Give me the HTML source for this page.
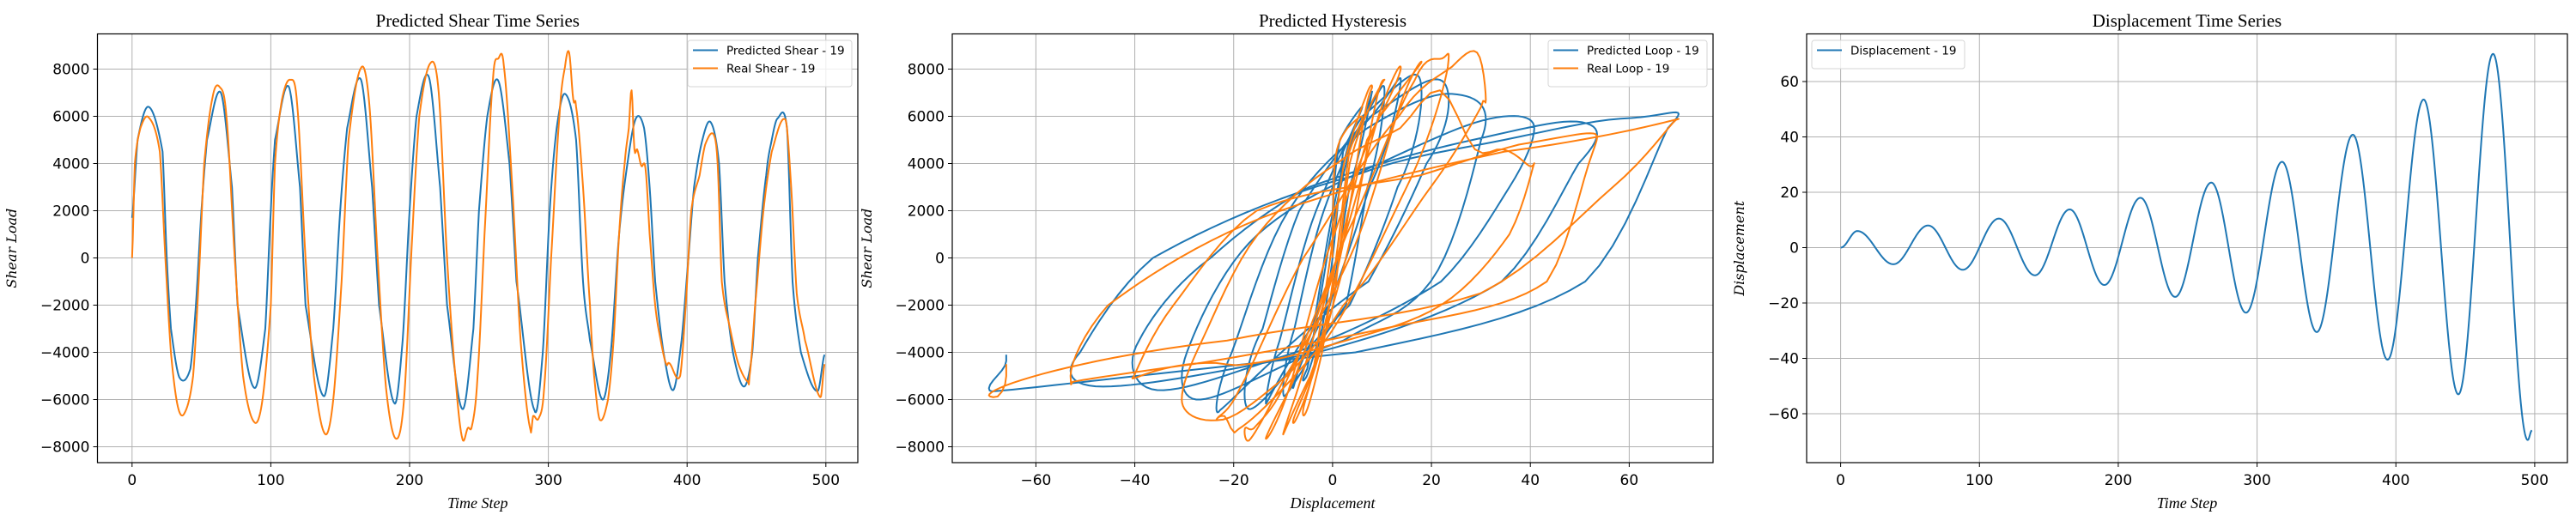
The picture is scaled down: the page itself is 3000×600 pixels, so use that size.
<!DOCTYPE html>
<html><head><meta charset="utf-8">
<style>
html,body{margin:0;padding:0;background:#fff;}
svg{display:block;}
.tick{font-family:"DejaVu Sans",sans-serif;font-size:17px;fill:#000;}
.title{font-family:"Liberation Serif",serif;font-size:21px;fill:#000;}
.xl{font-family:"Liberation Serif",serif;font-style:italic;font-size:18px;fill:#000;}
.yl{font-family:"DejaVu Serif",serif;font-style:italic;font-size:16px;fill:#000;}
.leg{font-family:"DejaVu Sans",sans-serif;font-size:13.5px;fill:#000;}
</style></head>
<body>
<svg id="root" width="3000" height="600" viewBox="0 0 3000 600" xmlns="http://www.w3.org/2000/svg"></svg>
<script>
// ---- Displacement extremes (time step, value) ----
const dispT = [0,12,38,63,88,114,140,165,190,216,241,267,292,318,343,369,394,420,445,470,495,498];
const dispV = [0,6,-6,8,-8,10.5,-10,13.8,-13.5,18,-17.8,23.5,-23.5,31,-30.5,40.8,-40.5,53.5,-53,70,-69.5,-66];
// ---- Predicted shear key points ----
const predT = [0,4,12,22,25,28,34,42,46,50,54,64,72,76,88,96,100,103,113,121,125,138,145,150,155,165,173,178,189,195,200,205,214,222,227,238,246,250,256,264,272,277,290,296,301,306,312,320,325,330,339,345,351,357,363,369,373,377,383,390,396,401,405,411,417,423,427,433,441,447,451,457,461,465,472,476,482,494,499];
const predV = [1700,5000,6400,4500,0,-3000,-5050,-4700,-2000,2000,5000,7000,3000,-2000,-5500,-3000,2000,5000,7250,3000,-2000,-5850,-3000,2000,5500,7550,3000,-2000,-6150,-3500,2000,6000,7650,3000,-2000,-6400,-3000,2000,6000,7500,4000,-1000,-6450,-4000,2000,5500,6950,5000,-1000,-3500,-6000,-4000,1000,4000,5900,5500,3000,-1000,-4000,-5600,-3500,0,3000,5000,5750,4000,-1000,-4000,-5450,-4000,0,3500,5000,5900,5500,-1000,-4000,-5650,-4100];
// ---- Real shear key points ----
const realT = [0,2,6,12,20,24,28,33,38,44,48,52,58,63,68,74,80,88,94,100,103,108,114,119,125,131,139,145,151,156,165,171,177,183,190,196,202,207,215,221,227,233,238,242,245,249,254,260,264,268,274,280,287,289,293,297,302,308,312,315,318,320,325,330,333,337,343,347,351,355,358,360,362,364,367,370,373,377,381,385,387,395,399,403,409,413,419,422,425,431,437,444,445,449,455,461,471,475,479,485,496,499];
const realV = [0,4000,5500,5950,4500,0,-4000,-6300,-6550,-5000,-1000,4000,6800,7250,6000,0,-5000,-6950,-6000,-2000,4000,6700,7550,6500,0,-5000,-7450,-6000,-1000,5000,8050,6500,0,-5500,-7650,-6000,1000,6000,8250,7000,0,-5000,-7650,-7200,-7100,-5000,1000,7500,8450,8100,3000,-3500,-7250,-6700,-6800,-5500,0,6000,8100,8700,6700,6400,3000,-2000,-5000,-6850,-6000,-3500,1000,4000,5500,7100,4600,4600,3900,3800,1000,-2000,-3500,-4500,-4450,-5000,-2000,2000,3500,4800,5250,4000,-1000,-3000,-4500,-5250,-5000,-2000,2000,4500,5850,3000,-1500,-3500,-5900,-4500];
const shearTicks = [-8000,-6000,-4000,-2000,0,2000,4000,6000,8000];
const timeTicks = [0,100,200,300,400,500];
const dispAxisTicks = [-60,-40,-20,0,20,40,60];
const dispValTicks = [-60,-40,-20,0,20,40,60];

const NS="http://www.w3.org/2000/svg";
const root=document.getElementById('root');
function mk(tag,attrs,parent){const e=document.createElementNS(NS,tag);for(const k in attrs)e.setAttribute(k,attrs[k]);(parent||root).appendChild(e);return e;}
function fmt(v){return v<0?'\u2212'+Math.abs(v):String(v);}

function cosInterp(T,V,t){
  for(let i=0;i<T.length-1;i++){if(t<=T[i+1]){const u=(t-T[i])/(T[i+1]-T[i]);return V[i]+(V[i+1]-V[i])*(1-Math.cos(Math.PI*u))/2;}}
  return V[V.length-1];
}
function crInterp(T,V,t){
  let i=0;while(i<T.length-2&&t>T[i+1])i++;
  const p0=V[Math.max(i-1,0)],p1=V[i],p2=V[i+1],p3=V[Math.min(i+2,V.length-1)];
  const u=(t-T[i])/(T[i+1]-T[i]);
  const u2=u*u,u3=u2*u;
  return 0.5*((2*p1)+(-p0+p2)*u+(2*p0-5*p1+4*p2-p3)*u2+(-p0+3*p1-3*p2+p3)*u3);
}
function samples(fn,T,V,t0,t1,step){const out=[];for(let t=t0;t<=t1+1e-9;t+=step)out.push([t,fn(T,V,t)]);return out;}

function axes(cfg){
  const g=mk('g',{});
  
  
  const {L,R,T,B}=cfg;
  const sx=v=>cfg.x0+(v-cfg.xa)*cfg.kx;
  const sy=v=>cfg.y0-(v-cfg.ya)*cfg.ky;
  const clip='clip-'+cfg.name;
  const cp=mk('clipPath',{id:clip},g);mk('rect',{x:L,y:T,width:R-L,height:B-T},cp);
  cfg.xticks.forEach(v=>{const x=sx(v);
    const gl=mk('line',{x1:x,x2:x,y1:T,y2:B,stroke:'#b0b0b0','stroke-width':1},g);
    
    mk('line',{x1:x,x2:x,y1:B,y2:B+5,stroke:'#000','stroke-width':1},g);
    const t=mk('text',{x:x,y:B+26,'text-anchor':'middle',class:'tick'},g);t.textContent=fmt(v);
    
  });
  cfg.yticks.forEach(v=>{const y=sy(v);
    const gl=mk('line',{x1:L,x2:R,y1:y,y2:y,stroke:'#b0b0b0','stroke-width':1},g);
    
    mk('line',{x1:L-5,x2:L,y1:y,y2:y,stroke:'#000','stroke-width':1},g);
    const t=mk('text',{x:L-9,y:y+6,'text-anchor':'end',class:'tick'},g);t.textContent=fmt(v);
    
  });
  cfg.series.forEach(s=>{
    const d=s.pts.map((p,i)=>(i?'L':'M')+sx(p[0]).toFixed(2)+' '+sy(p[1]).toFixed(2)).join(' ');
    const p=mk('path',{d:d,fill:'none',stroke:s.color,'stroke-width':2,'stroke-linejoin':'round','clip-path':'url(#'+clip+')'},g);
    
  });
  const fr=mk('rect',{x:L,y:T,width:R-L,height:B-T,fill:'none',stroke:'#000','stroke-width':1.2},g);
  
  const ti=mk('text',{x:(L+R)/2,y:31,'text-anchor':'middle',class:'title'},g);ti.textContent=cfg.title;
  
  const xl=mk('text',{x:(L+R)/2,y:592,'text-anchor':'middle',class:'xl'},g);xl.textContent=cfg.xlabel;
  
  const yl=mk('text',{x:0,y:0,'text-anchor':'middle',class:'yl',transform:'translate('+cfg.ylx+','+((T+B)/2)+') rotate(-90)'},g);yl.textContent=cfg.ylabel;
  
  const lg=mk('g',{},g);
  
  const lw=cfg.leg.w,lh=cfg.series.length*21+12;
  mk('rect',{x:cfg.leg.x,y:47,width:lw,height:lh,rx:3,fill:'#fff','fill-opacity':0.8,stroke:'#d6d6d6','stroke-width':1},lg);
  cfg.series.forEach((s,i)=>{const y=58.5+i*21;
    mk('line',{x1:cfg.leg.x+6,x2:cfg.leg.x+35,y1:y,y2:y,stroke:s.color,'stroke-width':2},lg);
    const t=mk('text',{x:cfg.leg.x+45,y:y+5,class:'leg'},lg);t.textContent=s.label;
    
  });
}

const pred=samples(crInterp,predT,predV,0,499,0.5);
const real=samples(crInterp,realT,realV,0,499,0.5);
const disp=samples(cosInterp,dispT,dispV,0,498,0.5);
const predLoop=pred.map(p=>[cosInterp(dispT,dispV,Math.min(p[0],498)),p[1]]);
const realLoop=real.map(p=>[cosInterp(dispT,dispV,Math.min(p[0],498)),p[1]]);

axes({name:'shear-time-series-chart',L:113.5,R:999,T:39.5,B:539,x0:153.8,xa:0,kx:1.616,y0:300.5,ya:0,ky:0.0275,
  xticks:timeTicks,yticks:shearTicks,title:'Predicted Shear Time Series',xlabel:'Time Step',ylabel:'Shear Load',ylx:19,
  leg:{x:801,w:191},
  series:[{name:'predicted-shear-line',label:'Predicted Shear - 19',color:'#1f77b4',pts:pred},
          {name:'real-shear-line',label:'Real Shear - 19',color:'#ff7f0e',pts:real}]});
axes({name:'hysteresis-chart',L:1109,R:1995,T:39.5,B:539,x0:1551.9,xa:0,kx:5.758,y0:300.5,ya:0,ky:0.0275,
  xticks:dispAxisTicks,yticks:shearTicks,title:'Predicted Hysteresis',xlabel:'Displacement',ylabel:'Shear Load',ylx:1015,
  leg:{x:1803,w:185},
  series:[{name:'predicted-loop-line',label:'Predicted Loop - 19',color:'#1f77b4',pts:predLoop},
          {name:'real-loop-line',label:'Real Loop - 19',color:'#ff7f0e',pts:realLoop}]});
axes({name:'displacement-time-series-chart',L:2104,R:2990,T:39.5,B:539,x0:2143.6,xa:0,kx:1.6166,y0:288.5,ya:0,ky:3.225,
  xticks:timeTicks,yticks:dispValTicks,title:'Displacement Time Series',xlabel:'Time Step',ylabel:'Displacement',ylx:2031,
  leg:{x:2110,w:178},
  series:[{name:'displacement-line',label:'Displacement - 19',color:'#1f77b4',pts:disp}]});
</script>
</body></html>
